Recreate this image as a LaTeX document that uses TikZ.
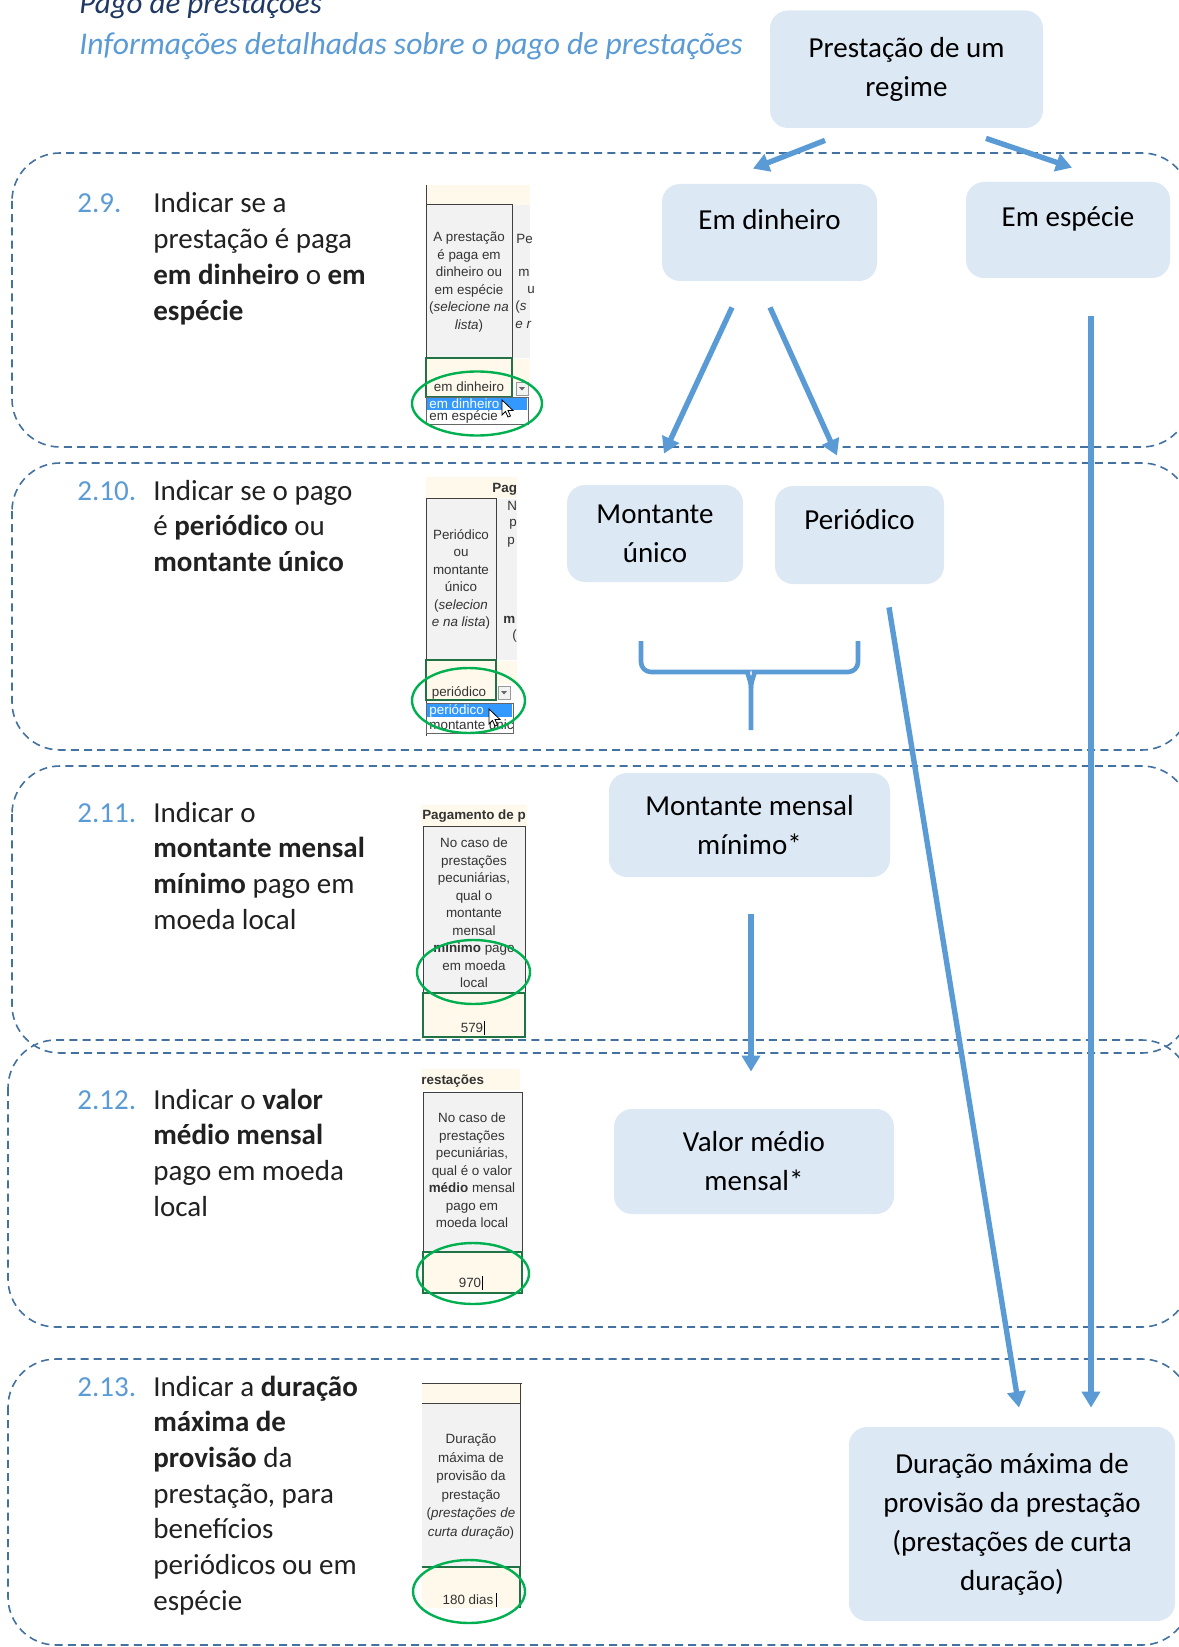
\documentclass[tikz,border=0pt]{standalone}
\usepackage{fontspec}
\setmainfont{Carlito}
\newfontfamily\xlfont{Liberation Sans}
\usetikzlibrary{arrows.meta,calc}

\definecolor{boxblue}{RGB}{221,232,245}
\definecolor{arrowblue}{RGB}{91,155,213}
\definecolor{dashblue}{RGB}{68,114,160}
\definecolor{titleblue}{RGB}{31,56,100}
\definecolor{xlgrey}{RGB}{242,242,242}
\definecolor{xlcream}{RGB}{255,249,236}
\definecolor{xlgreen}{RGB}{0,176,80}
\definecolor{xlsel}{RGB}{51,153,255}
\definecolor{xlcell}{RGB}{33,115,70}

\tikzset{
  section/.style={draw=dashblue, line width=0.8pt, dash pattern=on 4pt off 2.6pt, rounded corners=24pt},
  box/.style={fill=boxblue, rounded corners=9pt, align=center, inner sep=0pt, font=\fontsize{14.5}{19.5}\selectfont},
  uptext/.style={text height=11pt, text depth=#1},
  flow/.style={draw=arrowblue, line width=2.7pt, -{Triangle[length=8pt,width=9pt]}},
  brace/.style={draw=arrowblue, line width=2.3pt},
  stepnum/.style={anchor=base west, inner sep=0pt, text=arrowblue, font=\fontsize{14.5}{17.85}\selectfont},
  steptext/.style={anchor=base west, inner sep=0pt, align=left, text=black!87, font=\fontsize{14.5}{17.85}\selectfont},
  xltext/.style={inner sep=0pt, align=center, text=black!80, font=\xlfont\fontsize{6.7}{8.75}\selectfont},
  ring/.style={draw=xlgreen, line width=1.2pt},
}

% mouse pointer and drop-down button of the spreadsheet shots
\newcommand\mousept[1]{\draw[fill=white, draw=black, line width=0.4pt, shift={(#1)}] (0,0) -- (0,15) -- (3.5,11.5) -- (6,17) -- (8.5,16) -- (6,10.5) -- (11,10.5) -- cycle;}
\newcommand\ddbutton[1]{\draw[fill=xlgrey, draw=black!40, line width=0.4pt, shift={(#1)}] (0,0) rectangle (12,13);
  \fill[black!60, shift={(#1)}] (3,5) -- (9,5) -- (6,8.5) -- cycle;}

\begin{document}
\begin{tikzpicture}[x=0.5pt,y=-0.5pt]
\useasboundingbox (0,0) rectangle (1178,1647);

% titles
\node[anchor=base west, inner sep=0pt, text=titleblue, font=\fontsize{15.5}{18}\selectfont\itshape] (title) at (79,14) {Pago de prestações};
\node[anchor=base west, inner sep=0pt, text=arrowblue, font=\fontsize{15.8}{18}\selectfont\itshape] (subtitle) at (79,55) {Informações detalhadas sobre o pago de prestações};

% dashed sections
\draw[section] (12,153) rectangle (1190,447);
\draw[section] (12,463) rectangle (1190,750);
\draw[section] (12,766) rectangle (1190,1053);
\draw[section] (8,1040) rectangle (1190,1327);
\draw[section] (8,1359) rectangle (1190,1645);

% left column (base = last line)
\node[stepnum] (n29) at (77,213) {2.9.};
\node[steptext] (t29) at (153,320.1) {Indicar se a\\prestação é paga\\\textbf{em dinheiro} o \textbf{em}\\\textbf{espécie}};
\node[stepnum] (n210) at (77,500) {2.10.};
\node[steptext] (t210) at (153,571.4) {Indicar se o pago\\é \textbf{periódico} ou\\\textbf{montante único}};
\node[stepnum] (n211) at (77,822) {2.11.};
\node[steptext] (t211) at (153,929.1) {Indicar o\\\textbf{montante mensal}\\\textbf{mínimo} pago em\\moeda local};
\node[stepnum] (n212) at (77,1109) {2.12.};
\node[steptext] (t212) at (153,1216.1) {Indicar o \textbf{valor}\\\textbf{médio mensal}\\pago em moeda\\local};
\node[stepnum] (n213) at (77,1396) {2.13.};
\node[steptext] (t213) at (153,1610.2) {Indicar a \textbf{duração}\\\textbf{máxima de}\\\textbf{provisão} da\\prestação, para\\benefícios\\periódicos ou em\\espécie};

% shot 2.9
\fill[xlcream] (426,185) rectangle (530,205);
\draw[fill=xlgrey, draw=black!75, line width=0.5pt] (426,205) rectangle (512,358);
\fill[xlgrey] (512.5,205.5) rectangle (530,358);
\draw[black!75, line width=0.5pt] (426,185) -- (426,425);
\node[xltext] (xa1) at (469,282) {A prestação\\é paga em\\dinheiro ou\\em espécie\\(\textit{selecione na}\\\textit{lista})};
\node[xltext, anchor=west] (xa2) at (516,239) {Pe};
\node[xltext, anchor=west] (xa3) at (518,273) {m};
\node[xltext, anchor=west] (xa4) at (527,290) {u};
\node[xltext, anchor=west] (xa5) at (515,307) {(\textit{s}};
\node[xltext, anchor=west] (xa6) at (515,325) {\textit{e r}};
\draw[fill=xlcream, draw=xlcell, line width=0.8pt] (426,358) rectangle (512,397);
\fill[xlcream] (513,358.5) rectangle (530,382);
\node[xltext] (xa7) at (469,387) {em dinheiro};
\ddbutton{516,382}
\draw[fill=white, draw=black!60, line width=0.4pt] (426,397) rectangle (528,424);
\fill[xlsel] (427,398) rectangle (527,410);
\node[xltext, anchor=west, text=white] (xa8) at (429,404) {em dinheiro};
\node[xltext, anchor=west] (xa9) at (429,417) {em espécie};
\mousept{502,400}
\draw[ring] (477,403.5) ellipse [x radius=32.5pt, y radius=16pt];

% shot 2.10
\fill[xlcream] (426,477) rectangle (517,498);
\node[xltext, anchor=west, font=\xlfont\fontsize{6.7}{8.75}\selectfont\bfseries] (xb0) at (492,489) {Pag};
\draw[fill=xlgrey, draw=black!75, line width=0.5pt] (426,498) rectangle (496,660);
\fill[xlgrey] (496.5,498.5) rectangle (517,660);
\draw[black!75, line width=0.5pt] (426,498) -- (426,736);
\node[xltext] (xb1) at (461,579.5) {Periódico\\ou\\montante\\único\\(\textit{selecion}\\\textit{e na lista})};
\node[xltext, anchor=west] (xb2) at (507,506) {N};
\node[xltext, anchor=west] (xb3) at (509,524) {p};
\node[xltext, anchor=west] (xb4) at (507,542) {p};
\node[xltext, anchor=west, font=\xlfont\fontsize{6.7}{8.75}\selectfont\bfseries] (xb5) at (503,620) {m};
\node[xltext, anchor=west] (xb6) at (512,636) {(};
\draw[fill=xlcream, draw=xlcell, line width=0.8pt] (426,660) rectangle (496,700);
\fill[xlcream] (497,660.5) rectangle (517,684);
\node[xltext] (xb7) at (459,693) {periódico};
\ddbutton{498,686}
\draw[fill=white, draw=black!60, line width=0.4pt] (426,703) rectangle (513,733);
\fill[xlsel] (427,704) rectangle (512,717);
\node[xltext, anchor=west, text=white] (xb8) at (429,710.5) {periódico};
\node[xltext, anchor=west] (xb9) at (429,725) {montante únic};
\mousept{489,709}
\draw[ring] (468.5,700.5) ellipse [x radius=28.25pt, y radius=16.25pt];

% shot 2.11
\fill[xlcream] (421,805) rectangle (527,826);
\begin{scope}
\clip (421,805) rectangle (527,826);
\node[xltext, font=\xlfont\fontsize{6.7}{8.75}\selectfont\bfseries] (xc0) at (474,816) {Pagamento de p};
\end{scope}
\draw[fill=xlgrey, draw=black!75, line width=0.5pt] (423,826) rectangle (525,993);
\node[xltext] (xc1) at (474,913) {No caso de\\prestações\\pecuniárias,\\qual o\\montante\\mensal\\\textbf{mínimo} pago\\em moeda\\local};
\draw[fill=xlcream, draw=xlcell, line width=0.8pt] (423,993) rectangle (525,1037);
\node[xltext] (xc2) at (472,1028) {579};
\draw[black, line width=0.4pt] (484,1021) -- (484,1035);
\draw[ring] (473.5,972) ellipse [x radius=28.25pt, y radius=16pt];

% shot 2.12
\fill[xlcream] (421,1069) rectangle (520,1090);
\node[xltext, anchor=west, font=\xlfont\fontsize{6.7}{8.75}\selectfont\bfseries] (xd0) at (421,1081) {restações};
\draw[fill=xlgrey, draw=black!75, line width=0.5pt] (423,1092) rectangle (522,1252);
\node[xltext] (xd1) at (472,1170.5) {No caso de\\prestações\\pecuniárias,\\qual é o valor\\\textbf{médio} mensal\\pago em\\moeda local};
\draw[fill=xlcream, draw=xlcell, line width=0.8pt] (423,1252) rectangle (522,1293);
\node[xltext] (xd2) at (470,1283) {970};
\draw[black, line width=0.4pt] (482,1276) -- (482,1290);
\draw[ring] (473,1273.5) ellipse [x radius=28pt, y radius=15.25pt];

% shot 2.13
\fill[xlcream] (422,1383) rectangle (522,1403);
\draw[black!75, line width=0.5pt] (422,1383) -- (522,1383);
\draw[fill=xlgrey, draw=black!75, line width=0.5pt] (422,1403) -- (520,1403) -- (520,1567) -- (422,1567);
\fill[xlgrey] (422,1403.5) rectangle (519.5,1566.5);
\draw[black!75, line width=0.5pt] (520,1383) -- (520,1567);
\node[xltext, font=\xlfont\fontsize{6.7}{9.3}\selectfont] (xe1) at (471,1486.5) {Duração\\máxima de\\provisão da\\prestação\\(\textit{prestações de}\\\textit{curta duração})};
\fill[xlcream] (422,1567) rectangle (520,1608);
\draw[xlcell, line width=0.8pt] (422,1567) -- (520,1567) -- (520,1608);
\node[xltext] (xe2) at (468,1600) {180 dias};
\draw[black, line width=0.4pt] (496,1593) -- (496,1607);
\draw[ring] (469,1591.5) ellipse [x radius=28pt, y radius=15.75pt];

% boxes
\node[box, minimum width=136.5pt, minimum height=58.75pt] (regime) at (906.5,69.25) {Prestação de um\\regime};
\node[box, uptext=14pt, minimum width=107.5pt, minimum height=48.5pt] (dinheiro) at (769.5,232.5) {Em dinheiro};
\node[box, uptext=14pt, minimum width=102pt, minimum height=48pt] (especie) at (1068,230) {Em espécie};
\node[box, minimum width=88pt, minimum height=48.5pt] (unico) at (655,533.5) {Montante\\único};
\node[box, uptext=17pt, minimum width=84.5pt, minimum height=49pt] (periodico) at (859.5,535) {Periódico};
\node[box, minimum width=140.5pt, minimum height=52pt] (mensal) at (749.5,825) {Montante mensal\\mínimo*};
\node[box, minimum width=140pt, minimum height=52.5pt] (medio) at (754,1161.5) {Valor médio\\mensal*};
\node[box, minimum width=163pt, minimum height=97pt] (duracao) at (1012,1524) {Duração máxima de\\provisão da prestação\\(prestações de curta\\duração)};

% arrows
\draw[flow] ([shift={(-81.5,12)}]regime.south) -- ([shift={(-16.5,-15)}]dinheiro.north);
\draw[flow] ([shift={(79.5,10)}]regime.south) -- ([shift={(4,-14)}]especie.north);
\draw[flow] ([shift={(-37.5,26)}]dinheiro.south) -- ([shift={(9,-31)}]unico.north);
\draw[flow] ([shift={(0.5,26)}]dinheiro.south) -- ([shift={(-22.5,-30)}]periodico.north);
\draw[flow] ([shift={(23,38)}]especie.south) -- ([shift={(79,-19)}]duracao.north);
\draw[flow] ([shift={(29.5,23)}]periodico.south) -- ([shift={(7,-19)}]duracao.north);
\draw[flow] ([shift={(1.5,37)}]mensal.south) -- ([shift={(-3,-37)}]medio.north);

% brace under the two kinds of payment
\draw[brace] (641,641) [rounded corners=5pt] -- (641,672) -- (738,672) [sharp corners] to[out=0,in=90] (751,688) -- (751,730);
\draw[brace] (858,641) [rounded corners=5pt] -- (858,672) -- (764,672) [sharp corners] to[out=180,in=90] (751,688);
\end{tikzpicture}
\end{document}
